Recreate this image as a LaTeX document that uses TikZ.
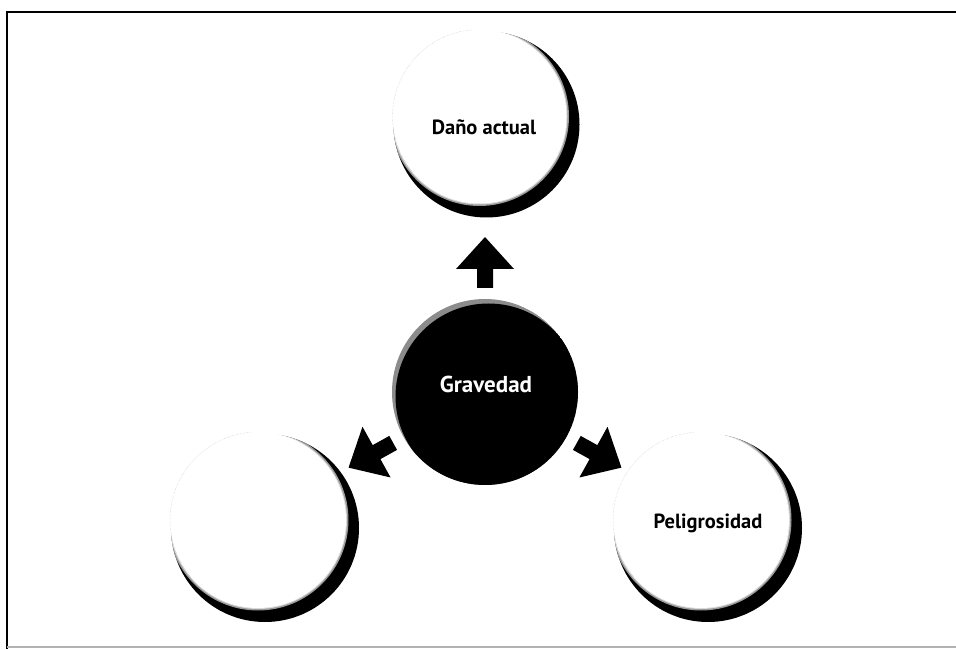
\documentclass[tikz,border=0pt]{standalone}
\usepackage{fontspec}
\setmainfont{PT Sans}
\usetikzlibrary{calc}
\begin{document}
\begin{tikzpicture}[x=1pt,y=1pt,
  label text/.style={font=\fontsize{20.5}{24}\selectfont\bfseries, text=black, inner sep=0pt},
  core text/.style={font=\fontsize{23}{26}\selectfont\bfseries, text=white, inner sep=0pt},
  blockarrow/.pic={\fill[black] (0,0) -- (-32,29) -- (-32,8) -- (-51,8) -- (-51,-8) -- (-32,-8) -- (-32,-29) -- cycle;}
]
\useasboundingbox (0,0) rectangle (956,649);
% frame: heavy top and left rules, faint bottom rule
\draw[line width=2pt] (956,637) -- (7,637) -- (7,0);
\draw[black!30, line width=1.5pt] (7,2) -- (956,2);

% sphere with a soft crescent shadow towards the lower right
\newcommand{\sphere}[3]{%
  \fill[black] ($(#1,#2)+(7,-8)$) circle (#3+6);
  \begin{scope}
    \clip ($(#1,#2)+(7,-8)$) circle (#3+6);
    \fill[black!40] (#1,#2) circle (#3+2.5);
    \fill[black!15] (#1,#2) circle (#3+1);
  \end{scope}
  \fill[white] (#1,#2) circle (#3);
  \draw[black!25, line width=0.4pt, densely dotted] ($(#1,#2)+(95:#3)$) arc (95:220:#3);
}

\sphere{479.5}{532.5}{87}
\sphere{258}{129}{88}
\sphere{701}{129}{88}

% central dark sphere with a lighter rim at the upper left
\begin{scope}
  \clip (485,257) circle (93);
  \fill[black!45] (485,257) circle (93);
  \fill[black] (488.5,252.5) circle (93);
\end{scope}

\node[core text] (grav) at (486,265) {Gravedad};
\coordinate (core) at (485,257);
\node[label text] (dano) at (484,522) {Daño actual};
\node[label text] (pelig) at (708,126) {Peligrosidad};

% block arrows leaving the central sphere
\pic[rotate=90]  at ($(core)+(90:155)$)  {blockarrow};
\pic[rotate=209] at ($(core)+(209:156)$) {blockarrow};
\pic[rotate=331] at ($(core)+(331:156)$) {blockarrow};
\end{tikzpicture}
\end{document}
